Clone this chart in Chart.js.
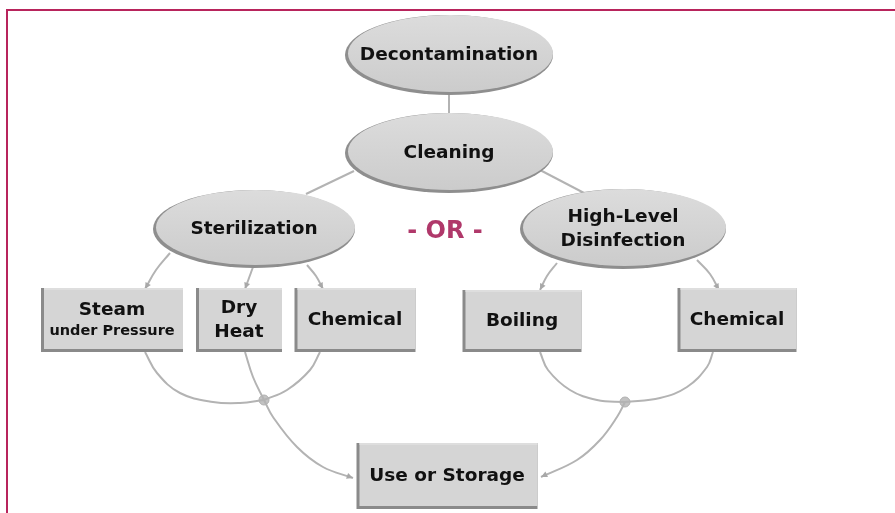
<!DOCTYPE html>
<html>
<head>
<meta charset="utf-8">
<script src="https://cdn.jsdelivr.net/npm/chart.js@4/dist/chart.umd.min.js"></script>
<style>
  html, body { margin: 0; padding: 0; background: #fff; }
  #wrap { position: relative; width: 895px; height: 513px; }
  #frame { position: absolute; left: 6px; top: 9px; right: 0; bottom: 0;
           border-top: 2px solid #b8245c; border-left: 2px solid #b8245c; pointer-events: none; }
</style>
</head>
<body>
<div id="wrap">
  <canvas id="chart"></canvas>
  <div id="frame"></div>
</div>
<script>
// noeuds du diagramme (coordonnées dans le repère du graphique)
const nodeLabels = ['Decontamination', 'Cleaning', 'Sterilization', 'High-Level\nDisinfection',
                    'Steam', 'Dry\nHeat', 'Chemical', 'Boiling', 'Chemical', 'Use or Storage'];
const nodeSubLabels = ['', '', '', '', 'under Pressure', '', '', '', '', ''];
const nodeKinds = ['oval', 'oval', 'oval', 'oval', 'box', 'box', 'box', 'box', 'box', 'box'];
const nodeX = [449, 449, 254, 623, 112, 239, 355, 522, 737, 447];
const nodeY = [55, 153, 229, 229, 320, 320, 320, 321, 320, 476];

// jonctions
const junctionX = [264, 625];
const junctionY = [400, 402];

// liaisons : points
const linkPaths = [
    [[449, 92], [449, 115]],
    [[354, 171], [306, 194]],
    [[540, 170], [586, 194]],
    [[170, 253], [156, 270], [145, 289]],
    [[253, 267], [249, 278], [245, 289]],
    [[307, 265], [316, 276], [323, 289]],
    [[557, 263], [547, 276], [540, 290]],
    [[697, 260], [710, 274], [719, 290]],
    [[145, 352], [157, 373], [180, 393], [213, 402], [240, 403], [264, 400]],
    [[245, 352], [253, 377], [264, 400]],
    [[320, 352], [310, 370], [287, 390], [264, 400]],
    [[264, 400], [273, 417], [297, 447], [323, 467], [353, 478]],
    [[540, 352], [548, 370], [570, 390], [597, 400], [625, 402]],
    [[713, 352], [707, 367], [687, 387], [660, 398], [625, 402]],
    [[625, 402], [617, 417], [600, 440], [577, 460], [541, 477]]
];
const linkArrows = [false, false, false, true, true, true, true, true, false, false, false, true, false, false, true];

const orText = '- OR -';
const orX = 445;
const orY = 232;

// tailles des formes (mise en page)
const nodeW = [208, 208, 202, 206, 142, 86, 121, 119, 119, 181];
const nodeH = [80, 80, 78, 80, 64, 64, 64, 62, 64, 66];

const lineColor = '#b3b3b3';
const fontFamily = '"DejaVu Sans", "Liberation Sans", sans-serif';

const datasets = linkPaths.map(function(path, i) {
    return {
        type: 'line',
        data: path.map(p => ({ x: p[0], y: p[1] })),
        borderColor: lineColor,
        borderWidth: 2,
        pointRadius: 0,
        tension: 0.4,
        arrow: linkArrows[i]
    };
});
datasets.push({
    type: 'scatter',
    data: junctionX.map((x, i) => ({ x: x, y: junctionY[i] })),
    backgroundColor: '#c2c2c2',
    borderColor: '#b0b0b0',
    borderWidth: 1,
    pointRadius: 5
});

const diagramPlugin = {
    id: 'diagram',
    afterDatasetsDraw(chart) {
        const ctx = chart.ctx;
        const xs = chart.scales.x;
        const ys = chart.scales.y;
        const sx = xs.getPixelForValue(1) - xs.getPixelForValue(0);
        const sy = ys.getPixelForValue(1) - ys.getPixelForValue(0);

        // flèches
        chart.data.datasets.forEach(function(ds) {
            if (!ds.arrow) return;
            const n = ds.data.length;
            const a = ds.data[n - 2], b = ds.data[n - 1];
            const x1 = xs.getPixelForValue(a.x), y1 = ys.getPixelForValue(a.y);
            const x2 = xs.getPixelForValue(b.x), y2 = ys.getPixelForValue(b.y);
            const ang = Math.atan2(y2 - y1, x2 - x1);
            ctx.save();
            ctx.fillStyle = '#a8a8a8';
            ctx.beginPath();
            ctx.moveTo(x2, y2);
            ctx.lineTo(x2 - 7 * Math.cos(ang - 0.45), y2 - 7 * Math.sin(ang - 0.45));
            ctx.lineTo(x2 - 7 * Math.cos(ang + 0.45), y2 - 7 * Math.sin(ang + 0.45));
            ctx.closePath();
            ctx.fill();
            ctx.restore();
        });

        // formes
        nodeLabels.forEach(function(label, i) {
            const cx = xs.getPixelForValue(nodeX[i]);
            const cy = ys.getPixelForValue(nodeY[i]);
            const w = nodeW[i] * sx, h = nodeH[i] * sy;
            ctx.save();
            if (nodeKinds[i] === 'oval') {
                ctx.fillStyle = '#8e8e8e';
                ctx.beginPath();
                ctx.ellipse(cx, cy, w / 2, h / 2, 0, 0, Math.PI * 2);
                ctx.fill();
                const g = ctx.createLinearGradient(0, cy - h / 2, 0, cy + h / 2);
                g.addColorStop(0, '#dcdcdc');
                g.addColorStop(1, '#cbcbcb');
                ctx.fillStyle = g;
                ctx.beginPath();
                ctx.ellipse(cx + 1.5, cy - 1.5, w / 2 - 1.5, h / 2 - 1.5, 0, 0, Math.PI * 2);
                ctx.fill();
            } else {
                const x0 = cx - w / 2, y0 = cy - h / 2;
                ctx.fillStyle = '#8a8a8a';
                ctx.fillRect(x0, y0, w, h);
                ctx.fillStyle = '#d5d5d5';
                ctx.fillRect(x0 + 3, y0, w - 3, h - 3);
                ctx.fillStyle = '#dedede';
                ctx.fillRect(x0 + 3, y0, w - 3, 2);
            }

            // texte
            ctx.fillStyle = '#111';
            ctx.textAlign = 'center';
            ctx.textBaseline = 'middle';
            const lines = label.split('\n');
            if (nodeSubLabels[i]) {
                ctx.font = 'bold 18.5px ' + fontFamily;
                ctx.fillText(lines[0], cx, cy - 10);
                ctx.font = 'bold 14.5px ' + fontFamily;
                ctx.fillText(nodeSubLabels[i], cx, cy + 11);
            } else {
                ctx.font = 'bold 18.5px ' + fontFamily;
                const step = 24;
                lines.forEach(function(t, k) {
                    ctx.fillText(t, cx, cy + (k - (lines.length - 1) / 2) * step);
                });
            }
            ctx.restore();
        });

        // - OR -
        ctx.save();
        ctx.fillStyle = '#b0386a';
        ctx.font = 'bold 24px ' + fontFamily;
        ctx.textAlign = 'center';
        ctx.textBaseline = 'middle';
        ctx.fillText(orText, xs.getPixelForValue(orX), ys.getPixelForValue(orY));
        ctx.restore();
    }
};

new Chart(document.getElementById('chart'), {
    type: 'line',
    data: { datasets: datasets },
    options: {
        responsive: true,
        maintainAspectRatio: false,
        animation: false,
        layout: { padding: 0, autoPadding: false },
        scales: {
            x: { type: 'linear', min: 0, max: 895, display: false },
            y: { type: 'linear', min: 0, max: 513, reverse: true, display: false }
        },
        plugins: {
            legend: { display: false },
            tooltip: { enabled: false }
        }
    },
    plugins: [diagramPlugin]
});
</script>
</body>
</html>
